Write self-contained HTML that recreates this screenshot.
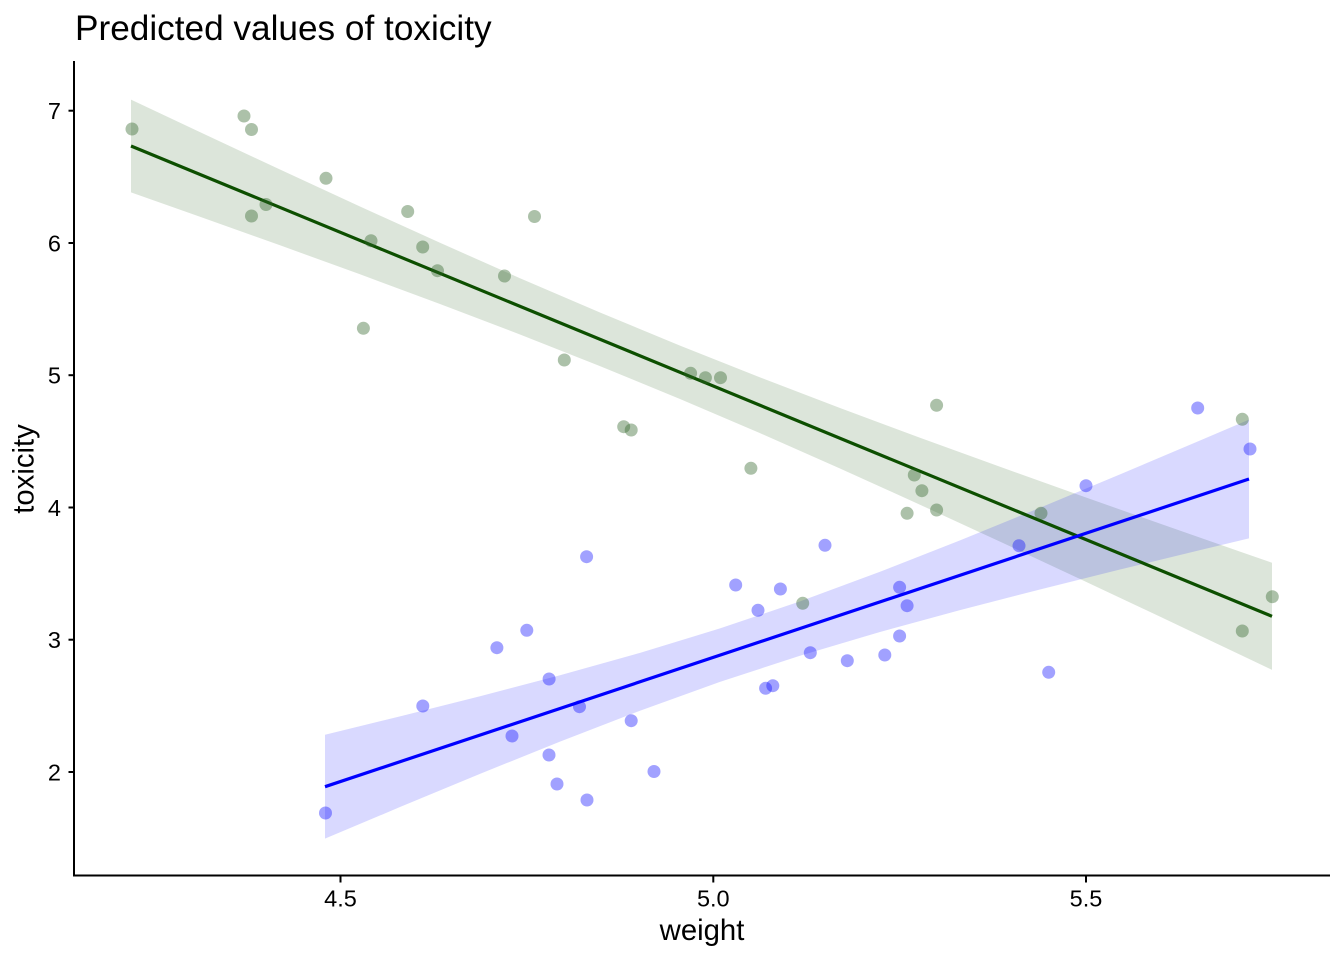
<!DOCTYPE html>
<html>
<head>
<meta charset="utf-8">
<style>
  html, body { margin: 0; padding: 0; background: #ffffff; }
  svg { display: block; }
  text { font-family: "Liberation Sans", Arial, sans-serif; fill: #000; }
</style>
</head>
<body>
<svg width="1344" height="960" viewBox="0 0 1344 960" xmlns="http://www.w3.org/2000/svg">
  <rect x="0" y="0" width="1344" height="960" fill="#ffffff"/>

  <!-- Title -->
  <text x="75" y="40" font-size="35.2">Predicted values of toxicity</text>

  <!-- Ribbons -->
  <polygon fill="#145008" fill-opacity="0.15" points="
    131,99.6 200,132.13 280,169.55 360,206.49 440,242.80 520,278.24 600,312.56 680,345.62 760,377.37 840,408.00 920,437.74 1000,466.80 1080,495.39 1160,523.63 1240,551.63 1272,562.78
    1272,669.86 1240,654.63 1160,616.67 1080,578.97 1000,541.60 920,504.72 840,468.50 760,433.17 680,398.98 600,366.08 520,334.46 440,303.94 360,274.29 280,245.29 200,216.75 131,192.4"/>
  <polygon fill="#0000ff" fill-opacity="0.15" points="
    325,734.73 400,716.38 480,696.28 560,675.28 640,652.88 720,628.40 800,601.33 880,571.78 960,540.37 1040,507.75 1120,474.37 1200,440.51 1249,419.61
    1249,538.41 1200,550.13 1120,569.55 1040,589.45 960,610.11 880,631.98 800,655.71 720,681.92 640,710.72 560,741.60 480,773.88 400,807.06 325,838.67"/>

  <!-- Lines -->
  <line x1="131" y1="146" x2="1272" y2="616.3" stroke="#0d4f00" stroke-width="3.2"/>
  <line x1="325" y1="786.7" x2="1249" y2="479" stroke="#0000ff" stroke-width="3.2"/>

  <!-- Green points -->
  <g fill="#2f6428" fill-opacity="0.4">
    <circle cx="132" cy="129" r="6.5"/>
    <circle cx="244" cy="116" r="6.5"/>
    <circle cx="251.5" cy="129.5" r="6.5"/>
    <circle cx="251.5" cy="216" r="6.5"/>
    <circle cx="266" cy="204.5" r="6.5"/>
    <circle cx="326" cy="178.3" r="6.5"/>
    <circle cx="371" cy="240.7" r="6.5"/>
    <circle cx="363.4" cy="328.3" r="6.5"/>
    <circle cx="407.7" cy="211.5" r="6.5"/>
    <circle cx="422.7" cy="247" r="6.5"/>
    <circle cx="437.5" cy="270.7" r="6.5"/>
    <circle cx="504.5" cy="276" r="6.5"/>
    <circle cx="534.5" cy="216.5" r="6.5"/>
    <circle cx="564.3" cy="360" r="6.5"/>
    <circle cx="623.7" cy="426.7" r="6.5"/>
    <circle cx="631.2" cy="430" r="6.5"/>
    <circle cx="690.6" cy="373.3" r="6.5"/>
    <circle cx="705.4" cy="377.7" r="6.5"/>
    <circle cx="720.5" cy="377.7" r="6.5"/>
    <circle cx="750.9" cy="468.3" r="6.5"/>
    <circle cx="914.3" cy="475" r="6.5"/>
    <circle cx="921.9" cy="490.7" r="6.5"/>
    <circle cx="907.1" cy="513.3" r="6.5"/>
    <circle cx="936.6" cy="510" r="6.5"/>
    <circle cx="936.6" cy="405.3" r="6.5"/>
    <circle cx="802.7" cy="603.3" r="6.5"/>
    <circle cx="1041" cy="513.3" r="6.5"/>
    <circle cx="1242.3" cy="631" r="6.5"/>
    <circle cx="1242.3" cy="419.3" r="6.5"/>
    <circle cx="1272.3" cy="596.7" r="6.5"/>
  </g>

  <!-- Blue points -->
  <g fill="#0000ff" fill-opacity="0.37">
    <circle cx="325.5" cy="813" r="6.5"/>
    <circle cx="422.8" cy="706" r="6.5"/>
    <circle cx="496.9" cy="647.7" r="6.5"/>
    <circle cx="512" cy="736" r="6.5"/>
    <circle cx="526.8" cy="630.3" r="6.5"/>
    <circle cx="549.1" cy="679" r="6.5"/>
    <circle cx="549" cy="755" r="6.5"/>
    <circle cx="557" cy="784" r="6.5"/>
    <circle cx="579.5" cy="706.7" r="6.5"/>
    <circle cx="586.6" cy="556.7" r="6.5"/>
    <circle cx="587" cy="800" r="6.5"/>
    <circle cx="631.2" cy="720.7" r="6.5"/>
    <circle cx="654" cy="771.5" r="6.5"/>
    <circle cx="735.7" cy="585" r="6.5"/>
    <circle cx="758" cy="610.3" r="6.5"/>
    <circle cx="765.6" cy="688.3" r="6.5"/>
    <circle cx="772.8" cy="685.7" r="6.5"/>
    <circle cx="780.4" cy="589" r="6.5"/>
    <circle cx="810.3" cy="652.7" r="6.5"/>
    <circle cx="825" cy="545.3" r="6.5"/>
    <circle cx="847.3" cy="660.7" r="6.5"/>
    <circle cx="884.8" cy="655" r="6.5"/>
    <circle cx="899.6" cy="587.3" r="6.5"/>
    <circle cx="907.1" cy="605.7" r="6.5"/>
    <circle cx="899.6" cy="636" r="6.5"/>
    <circle cx="1019" cy="545.7" r="6.5"/>
    <circle cx="1048.7" cy="672.3" r="6.5"/>
    <circle cx="1086" cy="485.7" r="6.5"/>
    <circle cx="1197.7" cy="408" r="6.5"/>
    <circle cx="1250" cy="449" r="6.5"/>
  </g>

  <!-- Axes -->
  <g stroke="#000" stroke-width="2" fill="none">
    <line x1="74" y1="61" x2="74" y2="876"/>
    <line x1="73" y1="875.5" x2="1330" y2="875.5"/>
    <!-- y ticks -->
    <line x1="68.5" y1="110.7" x2="74" y2="110.7"/>
    <line x1="68.5" y1="243" x2="74" y2="243"/>
    <line x1="68.5" y1="375.2" x2="74" y2="375.2"/>
    <line x1="68.5" y1="507.5" x2="74" y2="507.5"/>
    <line x1="68.5" y1="639.7" x2="74" y2="639.7"/>
    <line x1="68.5" y1="772" x2="74" y2="772"/>
    <!-- x ticks -->
    <line x1="340.5" y1="875.5" x2="340.5" y2="882.5"/>
    <line x1="713.3" y1="875.5" x2="713.3" y2="882.5"/>
    <line x1="1086" y1="875.5" x2="1086" y2="882.5"/>
  </g>

  <!-- Y tick labels -->
  <g font-size="23.5" text-anchor="end">
    <text x="61" y="119.1">7</text>
    <text x="61" y="251.4">6</text>
    <text x="61" y="383.6">5</text>
    <text x="61" y="515.9">4</text>
    <text x="61" y="648.1">3</text>
    <text x="61" y="780.4">2</text>
  </g>

  <!-- X tick labels -->
  <g font-size="23.5" text-anchor="middle">
    <text x="340.5" y="906.7">4.5</text>
    <text x="713.3" y="906.7">5.0</text>
    <text x="1086" y="906.7">5.5</text>
  </g>

  <!-- Axis titles -->
  <text x="702" y="940" font-size="29.3" text-anchor="middle">weight</text>
  <text x="0" y="0" font-size="29.3" text-anchor="middle" transform="translate(33.5,469) rotate(-90)">toxicity</text>
</svg>
</body>
</html>
